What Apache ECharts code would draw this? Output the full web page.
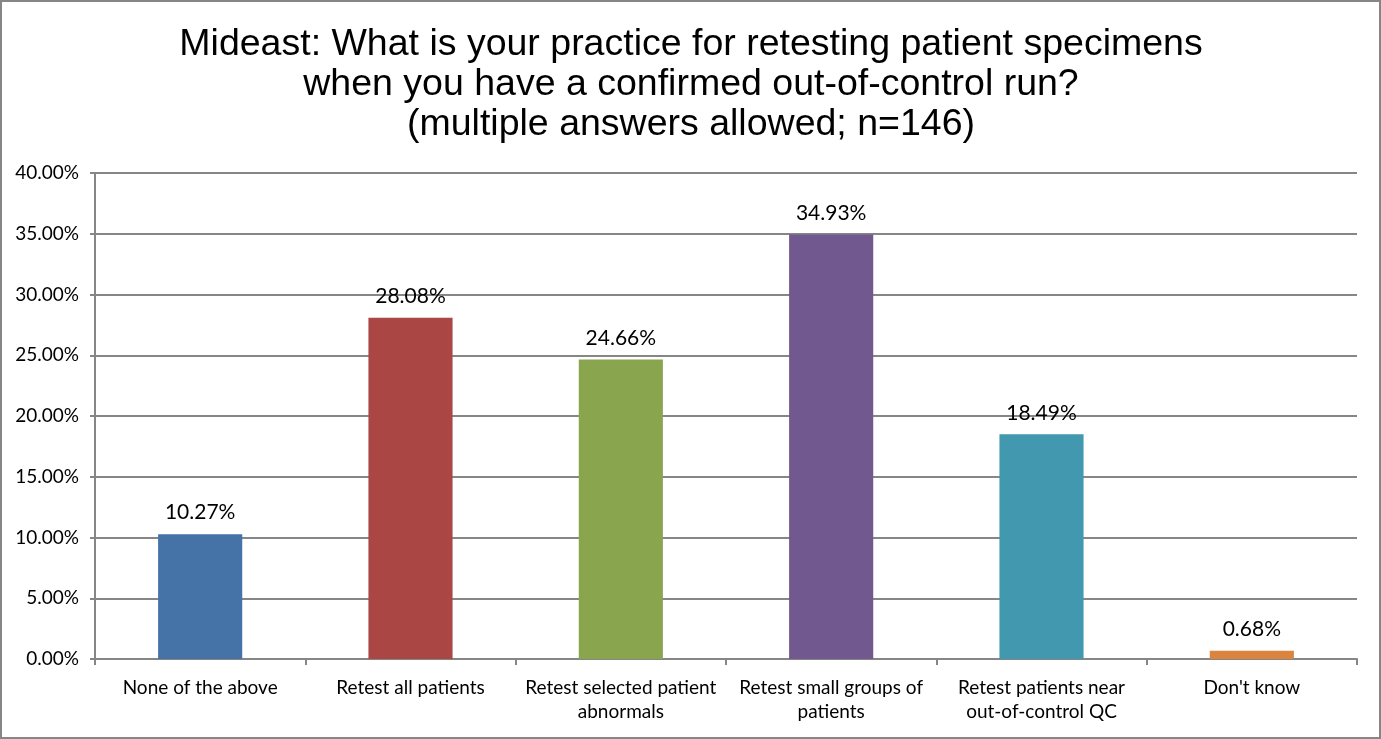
<!DOCTYPE html>
<html><head><meta charset="utf-8">
<script src="https://cdn.jsdelivr.net/npm/echarts@6/dist/echarts.min.js"></script>
<style>html,body{margin:0;padding:0;background:#fff}#c{width:1381px;height:739px;box-sizing:border-box;border:2px solid #868686}</style>
</head><body><div id="c"></div>
<script>
const categories = ["None of the above","Retest all patients","Retest selected patient\nabnormals","Retest small groups of\npatients","Retest patients near\nout-of-control QC","Don't know"];
const values = [10.27, 28.08, 24.66, 34.93, 18.49, 0.68];
const colors = ["#4572A7","#AA4643","#89A54E","#71588F","#4198AF","#DB843D"];
const titleText = "Mideast: What is your practice for retesting patient specimens\nwhen you have a confirmed out-of-control run?\n(multiple answers allowed; n=146)";
const chart = echarts.init(document.getElementById('c'));
chart.setOption({
  animation:false,
  title:{text:titleText,left:684,top:18,textAlign:'center',textStyle:{fontFamily:'Liberation Sans',fontSize:37.5,fontWeight:'normal',color:'#000',lineHeight:40}},
  grid:{left:93,right:22,top:171,bottom:78,containLabel:false},
  xAxis:{type:'category',data:categories,
    axisLine:{lineStyle:{color:'#868686',width:2}},
    axisTick:{show:true,alignWithLabel:false,length:6,lineStyle:{color:'#868686',width:2}},
    axisLabel:{interval:0,margin:17,fontFamily:'Lato',fontSize:19,color:'#000',lineHeight:24}},
  yAxis:{type:'value',min:0,max:40,interval:5,
    axisLine:{show:true,lineStyle:{color:'#868686',width:2}},
    axisTick:{show:true,length:5,lineStyle:{color:'#868686',width:2}},
    splitLine:{lineStyle:{color:'#868686',width:2}},
    axisLabel:{margin:16,fontFamily:'Lato',fontSize:19,color:'#000',formatter:v=>v.toFixed(2)+'%'}},
  series:[{type:'bar',barWidth:'40%',
    data:values.map((v,i)=>({value:v,itemStyle:{color:colors[i]}})),
    label:{show:true,position:'top',distance:11,fontFamily:'Lato',fontSize:21,color:'#000',formatter:p=>p.value.toFixed(2)+'%'}}]
});
</script></body></html>
